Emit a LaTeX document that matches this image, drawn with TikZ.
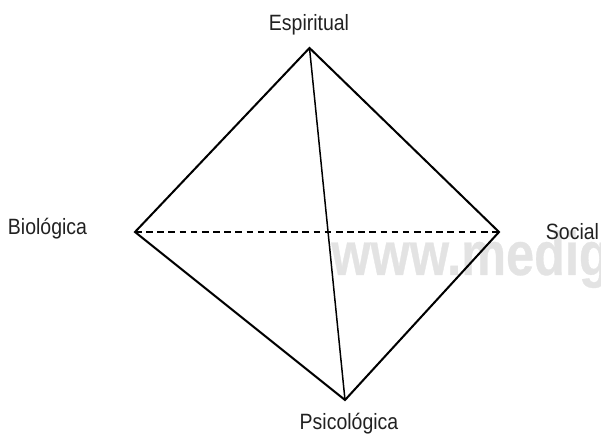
\documentclass[tikz,border=0pt]{standalone}
\usepackage{fontspec}
\setmainfont[FakeStretch=0.88]{Liberation Sans}
\newfontfamily\markfont[FakeStretch=0.82,FakeBold=0.5]{Liberation Sans}
\begin{document}
\begin{tikzpicture}[
  font=\fontsize{12.6}{14}\selectfont,
  vertexlabel/.style={text=labelText, inner sep=0pt},
  edgeline/.style={draw=black, line width=1.15pt, line join=miter},
  innerline/.style={draw=black, line width=0.85pt},
  hiddenline/.style={draw=black, line width=0.75pt, dash pattern=on 3.8pt off 2.55pt},
  watermark/.style={text=markGray, font=\markfont\fontsize{35}{37}\selectfont\bfseries, anchor=base west, inner sep=0pt},
]

\definecolor{labelText}{gray}{0.13}
\definecolor{markGray}{gray}{0.89}

\useasboundingbox (0,0) rectangle (12.02,8.76);
\clip (0,0) rectangle (12.02,8.76);

% Watermark.
\node[watermark] (mark) at (6.62,3.26) {www.medig};

% Corners.
\coordinate (espiritual) at (6.19,7.80);
\coordinate (biologica) at (2.70,4.12);
\coordinate (social) at (9.98,4.12);
\coordinate (psicologica) at (6.90,0.76);

% Edges.
\draw[hiddenline] (biologica) -- (social);
\draw[innerline] (espiritual) -- (psicologica);
\draw[edgeline] (espiritual) -- (social) -- (psicologica) -- (biologica) -- cycle;

% Labels.
\node[vertexlabel] (espiritualLabel) at (6.18,8.26) {Espiritual};
\node[vertexlabel] (biologicaLabel) at (0.95,4.18) {Biológica};
\node[vertexlabel] (socialLabel) at (11.45,4.12) {Social};
\node[vertexlabel] (psicologicaLabel) at (6.98,0.28) {Psicológica};

\end{tikzpicture}
\end{document}
